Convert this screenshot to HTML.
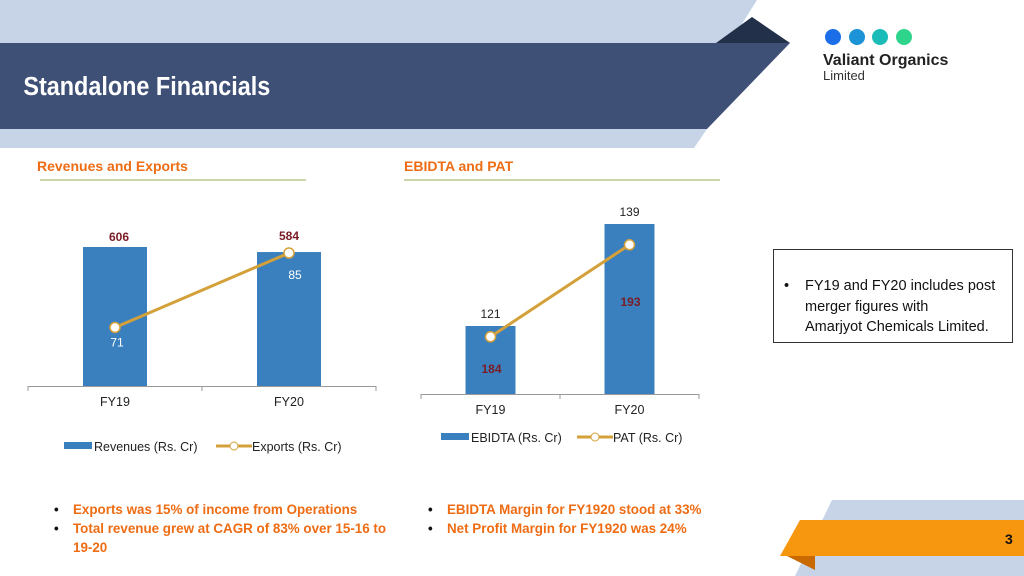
<!DOCTYPE html>
<html><head><meta charset="utf-8"><style>
body{margin:0;width:1024px;height:576px;overflow:hidden;background:#fff;font-family:"Liberation Sans",sans-serif;position:relative}
.abs{position:absolute}
</style></head><body>
<svg class="abs" style="left:0;top:0" width="1024" height="576">
<polygon points="0,0 757,0 730,43 0,43" fill="#c7d4e8"/>
<polygon points="0,129 707,129 694,148 0,148" fill="#c7d4e8"/>
<polygon points="716,43 752,17 790,43" fill="#223049"/>
<polygon points="0,43 790,43 707,129 0,129" fill="#3f5076"/>
<text x="26" y="95" fill="#fff" font-family="Liberation Sans Narrow, Liberation Sans, sans-serif" font-weight="bold" font-size="26" transform="scale(0.9,1)">Standalone Financials</text>
<g>
<circle cx="833" cy="37" r="8" fill="#1c6ee8"/><circle cx="857" cy="37" r="8" fill="#1b93d6"/><circle cx="880" cy="37" r="8" fill="#1bbcb8"/><circle cx="904" cy="37" r="8" fill="#2ed48c"/>
<text x="823" y="65" font-size="16" font-weight="bold" fill="#222">Valiant Organics</text>
<text x="823" y="80" font-size="13" fill="#333">Limited</text>
</g>
<polygon points="832,500 1024,500 1024,576 795,576" fill="#c7d4e8"/>
<polygon points="785,555 815,555 815,570" fill="#c96a00"/>
<polygon points="800,520 1024,520 1024,556 780,556" fill="#f7960f"/>
<text x="1005" y="544" font-size="14" font-weight="bold" fill="#111">3</text>
<text x="37" y="171" font-size="14" font-weight="bold" fill="#ee6c14">Revenues and Exports</text>
<rect x="40" y="179" width="266" height="2" fill="#cbd5aa"/>
<text x="404" y="171" font-size="14" font-weight="bold" fill="#ee6c14">EBIDTA and PAT</text>
<rect x="404" y="179" width="316" height="2" fill="#cbd5aa"/>
</svg>
<svg class="abs" id="c" style="left:0;top:0" width="1024" height="576"></svg>
<div class="abs" style="left:773px;top:249px;width:238px;height:92px;border:1px solid #333;font-size:14.5px;line-height:20.5px;color:#111">
<div style="position:absolute;left:10px;top:26px">•</div>
<div style="position:absolute;left:31px;top:26px;width:210px;white-space:nowrap">FY19 and FY20 includes post<br>merger figures with<br>Amarjyot Chemicals Limited.</div>
</div>
<div class="abs" style="left:54px;top:500px;color:#ee6c14;font-weight:bold;font-size:13.4px;line-height:19px">
<div><span style="color:#111;display:inline-block;width:19px">•</span>Exports was 15% of income from Operations</div>
<div><span style="color:#111;display:inline-block;width:19px">•</span>Total revenue grew at CAGR of 83% over 15-16 to</div>
<div style="padding-left:19px">19-20</div></div>
<div class="abs" style="left:428px;top:500px;color:#ee6c14;font-weight:bold;font-size:13.4px;line-height:19px">
<div><span style="color:#111;display:inline-block;width:19px">•</span>EBIDTA Margin for FY1920 stood at 33%</div>
<div><span style="color:#111;display:inline-block;width:19px">•</span>Net Profit Margin for FY1920 was 24%</div></div>
<script>
const categories=["FY19","FY20"];
const revenues=[606,584];
const exportsV=[71,85];
const ebidta=[121,139];
const pat=[184,193];
const NS="http://www.w3.org/2000/svg";
const svg=document.getElementById('c');
function mk(t,a){const e=document.createElementNS(NS,t);for(const k in a)e.setAttribute(k,a[k]);svg.appendChild(e);return e;}
function txt(x,y,s,col,w,sz){const e=mk('text',{x:x,y:y,'text-anchor':'middle','font-size':sz||12,fill:col,'font-weight':w||'normal'});e.textContent=s;return e;}
function chart(o){
  const yB=v=>o.base-(v-o.bmin)*o.bk, yL=v=>o.base-(v-o.lmin)*o.lk, xc=i=>o.x0+o.step*(i+0.5);
  mk('line',{x1:o.x0,x2:o.x0+o.step*2,y1:o.base+0.5,y2:o.base+0.5,stroke:'#999'});
  for(let i=0;i<=2;i++)mk('line',{x1:o.x0+o.step*i,x2:o.x0+o.step*i,y1:o.base,y2:o.base+5,stroke:'#999'});
  const pts=[];
  categories.forEach((c,i)=>{
    const b=mk('rect',{x:xc(i)-o.bw/2,y:yB(o.bars[i]),width:o.bw,height:o.base-yB(o.bars[i]),fill:'#3a80be'});
    
    
    const t=mk('text',{x:xc(i),y:o.base+20,'text-anchor':'middle','font-size':12.5,fill:'#222'});t.textContent=c;
    
    
    pts.push([xc(i),yL(o.line[i])]);
  });
  mk('polyline',{points:pts.map(p=>p.join(',')).join(' '),fill:'none',stroke:'#d4a03a','stroke-width':3});
  pts.forEach((p,i)=>{const c=mk('circle',{cx:p[0],cy:p[1],r:5,fill:'#fff',stroke:'#d4a03a','stroke-width':1.5});
    
    });
  o.labels(xc,yB,yL);
}
chart({id:'revenue',x0:28,step:174,base:386,bw:64,bars:revenues,bmin:0,bk:139/606,line:exportsV,lmin:60,lk:133/25,
 labels:(xc,yB,yL)=>{
  txt(xc(0)+4,yB(revenues[0])-6,revenues[0],'#7a1c25','bold');
  txt(xc(1),yL(exportsV[1])-13,revenues[1],'#7a1c25','bold');
  txt(xc(0)+2,yL(exportsV[0])+19,exportsV[0],'#fff');
  txt(xc(1)+6,yL(exportsV[1])+26,exportsV[1],'#fff');
 }});
chart({id:'ebidta',x0:421,step:139,base:394,bw:50,bars:ebidta,bmin:109,bk:102/18,line:pat,lmin:178.4,lk:92/9,
 labels:(xc,yB,yL)=>{
  ebidta.forEach((v,i)=>txt(xc(i),yB(v)-8,v,'#222'));
  pat.forEach((v,i)=>txt(xc(i)+1,i?yL(v)+61:yL(v)+36,v,'#7a1c25','bold'));
 }});
function legend(x,y,lab1,lab2,x2){
  mk('rect',{x:x,y:y-4,width:28,height:7,fill:'#3a80be'});
  const a=mk('text',{x:x+30,y:y+5,'font-size':12.5,fill:'#222'});a.textContent=lab1;
  mk('line',{x1:x2,x2:x2+36,y1:y,y2:y,stroke:'#d4a03a','stroke-width':3});
  mk('circle',{cx:x2+18,cy:y,r:4,fill:'#fff',stroke:'#d4a03a'});
  const b=mk('text',{x:x2+36,y:y+5,'font-size':12.5,fill:'#222'});b.textContent=lab2;
}
legend(64,446,'Revenues (Rs. Cr)','Exports (Rs. Cr)',216);
legend(441,437,'EBIDTA (Rs. Cr)','PAT (Rs. Cr)',577);
</script>
</body></html>
